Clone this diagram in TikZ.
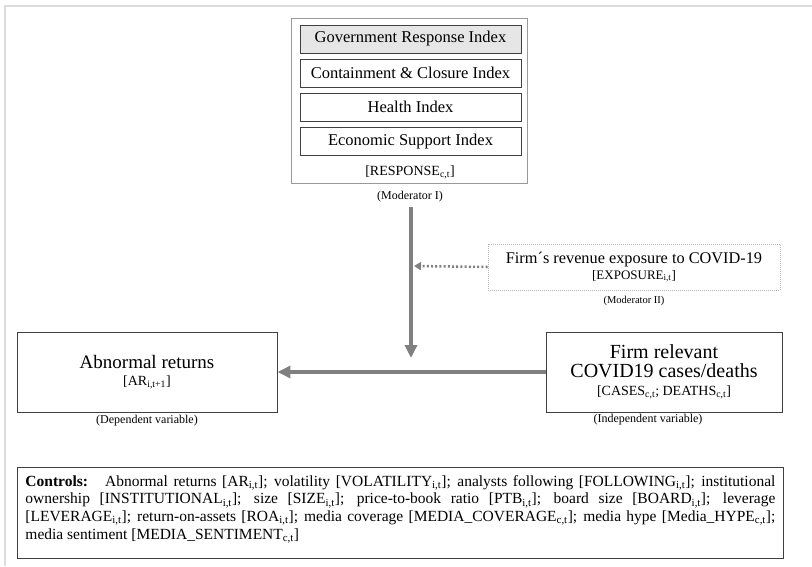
\documentclass[tikz,border=0pt]{standalone}
\usepackage{fontspec}
\setmainfont{Liberation Serif}
\usetikzlibrary{arrows.meta}
\definecolor{boxline}{HTML}{404040}
\definecolor{outerline}{HTML}{9A9A9A}
\definecolor{arrowgray}{HTML}{808080}
\definecolor{framegray}{HTML}{DCDCDC}
\definecolor{govfill}{HTML}{E6E6E6}
\definecolor{dotline}{HTML}{B4B4B4}
\newcommand{\fsz}[2]{\fontsize{#1pt}{#2pt}\selectfont}
\tikzset{
  box/.style={draw=boxline, line width=0.9pt, inner sep=0pt, align=center},
  idxbox/.style={box, minimum width=221pt, minimum height=28pt, font=\fsz{16.5}{19}},
  lbl/.style={inner sep=0pt, align=center},
  bigarrow/.style={draw=arrowgray, line width=4pt, -{Triangle[length=13pt,width=12pt]}},
  dotarrow/.style={draw=arrowgray, line width=2.5pt, dash pattern=on 2pt off 2.2pt, -{Triangle[length=7pt,width=8pt]}}
}
\begin{document}
\begin{tikzpicture}[x=1pt,y=-1pt]
\useasboundingbox (0,0) rectangle (812,566);
% page frame
\draw[framegray, line width=2pt] (5,566) -- (5,6) -- (812,6);

% Moderator I group
\node[draw=outerline, line width=0.9pt, minimum width=236pt, minimum height=165pt, inner sep=0pt] (modbox) at (409,100.5) {};
\node[idxbox, fill=govfill] (gri) at (410.5,39) {Government Response Index};
\node[idxbox] (cci) at (410.5,73) {Containment \& Closure Index};
\node[idxbox] (hi) at (410.5,107) {Health Index};
\node[idxbox] (esi) at (410.5,141.5) {Economic Support Index};
\node[lbl, font=\fsz{14}{16}] (resp) at (410,172) {[RESPONSE\textsubscript{c,t}]};
\node[lbl, font=\fsz{12}{14}] (mod1) at (410,197) {(Moderator I)};

% Moderator II
\node[draw=dotline, line width=0.8pt, dash pattern=on 1pt off 1pt, minimum width=292pt, minimum height=46pt, inner sep=0pt, align=center, font=\fsz{16.3}{16}] (expo) at (634,267)
  {Firm\symbol{"00B4}s revenue exposure to COVID-19\\{\fsz{13}{15}[EXPOSURE\textsubscript{i,t}]}};
\node[lbl, font=\fsz{10.5}{12}] (mod2) at (634,301) {(Moderator II)};

% Dependent
\node[box, minimum width=260pt, minimum height=80pt, font=\fsz{19}{17}] (abn) at (147,372)
  {Abnormal returns\\{\fsz{14}{16}[AR\textsubscript{i,t+1}]}};
\node[lbl, font=\fsz{12}{14}] (dep) at (147,421) {(Dependent variable)};

% Independent
\node[box, minimum width=236pt, minimum height=80pt, font=\fsz{20}{18.5}] (firm) at (664,372)
  {Firm relevant\\COVID19 cases/deaths\\{\fsz{14}{16}[CASES\textsubscript{c,t}; DEATHS\textsubscript{c,t}]}};
\node[lbl, font=\fsz{12}{14}] (indep) at (648,420) {(Independent variable)};

% connectors
\coordinate (vtop) at (411,207);
\coordinate (vbot) at (411,358);
\coordinate (dtip) at (414,266);
\draw[bigarrow] (firm.west) -- (abn.east);
\draw[bigarrow] (vtop) -- (vbot);
\draw[dotarrow] (expo.west) -- (dtip);

% Controls
\node[box, anchor=north west, inner xsep=8pt, inner ysep=8pt] (ctrl) at (17,467)
  {\parbox[c][75pt][t]{750pt}{\fsz{15.5}{17.6}\hyphenpenalty=10000\exhyphenpenalty=10000
  \textbf{Controls:}\hspace{1.1em}Abnormal returns [AR\textsubscript{i,t}]; volatility [VOLATILITY\textsubscript{i,t}]; analysts following [FOLLOWING\textsubscript{i,t}]; institutional\linebreak[4]{}
  ownership [INSTITUTIONAL\textsubscript{i,t}]; size [SIZE\textsubscript{i,t}]; price-to-book ratio [PTB\textsubscript{i,t}]; board size [BOARD\textsubscript{i,t}]; leverage\linebreak[4]{}
  [LEVERAGE\textsubscript{i,t}]; return-on-assets [ROA\textsubscript{i,t}]; media coverage [MEDIA\_COVERAGE\textsubscript{c,t}]; media hype [Media\_HYPE\textsubscript{c,t}];\linebreak[4]{}
  media sentiment [MEDIA\_SENTIMENT\textsubscript{c,t}]}};
\end{tikzpicture}
\end{document}
